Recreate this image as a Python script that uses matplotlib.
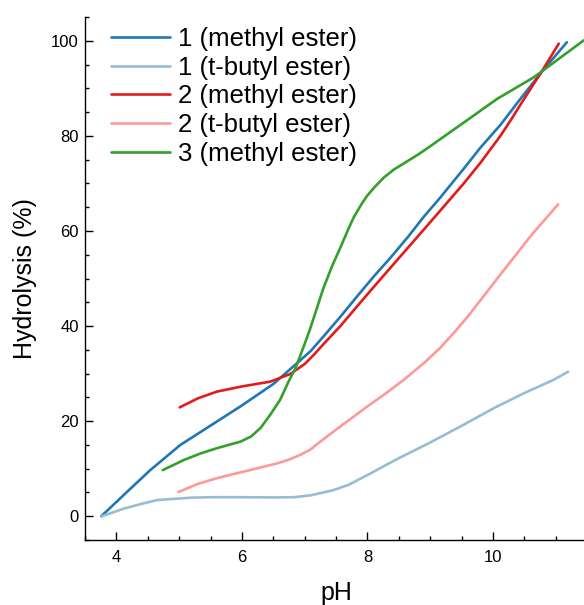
import matplotlib
matplotlib.use("Agg")
import matplotlib.pyplot as plt
from matplotlib.ticker import MultipleLocator

plt.rcParams['font.family'] = ['Liberation Sans', 'DejaVu Sans']

# Series data (pH, hydrolysis %)
ph_1_methyl = [3.76, 4.2, 4.54, 5.02, 5.6, 6.0, 6.5, 6.88, 7.1, 7.3, 7.56, 7.84, 8.1, 8.37, 8.65, 8.9, 9.16, 9.53, 9.8, 10.12, 10.44, 10.8, 11.18]
hy_1_methyl = [0, 5.5, 9.7, 15.0, 19.9, 23.3, 27.8, 32.2, 34.8, 37.8, 41.8, 46.3, 50.4, 54.4, 58.8, 63.0, 67.0, 73.0, 77.5, 82.3, 87.8, 93.8, 99.7]

ph_1_tbutyl = [3.77, 4.12, 4.4, 4.65, 5.18, 5.5, 6.0, 6.5, 6.83, 7.1, 7.46, 7.7, 7.89, 8.05, 8.3, 8.53, 9.0, 9.5, 10.01, 10.5, 10.97, 11.2]
hy_1_tbutyl = [0, 1.6, 2.6, 3.4, 3.9, 4.0, 4.0, 3.95, 4.0, 4.4, 5.5, 6.6, 7.9, 9.0, 10.8, 12.4, 15.5, 19.0, 22.7, 25.9, 28.7, 30.4]

ph_2_methyl = [5.01, 5.3, 5.6, 6.0, 6.45, 6.77, 7.0, 7.15, 7.3, 7.57, 7.84, 8.1, 8.37, 8.9, 9.32, 9.53, 9.8, 10.12, 10.3, 10.47, 10.8, 11.05]
hy_2_methyl = [22.9, 24.8, 26.2, 27.3, 28.3, 29.9, 32.0, 34.0, 36.2, 40.0, 44.2, 48.2, 52.3, 60.3, 66.7, 69.9, 74.3, 80.0, 83.6, 87.2, 94.0, 99.4]

ph_2_tbutyl = [4.99, 5.3, 5.6, 6.0, 6.56, 6.75, 6.93, 7.09, 7.25, 7.5, 8.0, 8.3, 8.58, 8.9, 9.16, 9.4, 9.6, 10.1, 10.6, 11.04]
hy_2_tbutyl = [5.1, 6.8, 8.0, 9.3, 11.1, 11.9, 12.9, 14.0, 15.7, 18.2, 23.1, 25.9, 28.7, 32.2, 35.4, 38.9, 42.0, 50.5, 58.9, 65.6]

ph_3_methyl = [4.74, 5.07, 5.34, 5.6, 5.98, 6.15, 6.3, 6.45, 6.61, 6.75, 6.85, 6.98, 7.09, 7.3, 7.45, 7.57, 7.7, 7.78, 7.9, 7.99, 8.12, 8.26, 8.42, 8.58, 8.8, 9.0, 9.3, 9.59, 10.07, 10.65, 11.45]
hy_3_methyl = [9.7, 11.8, 13.2, 14.3, 15.7, 16.8, 18.6, 21.3, 24.5, 28.5, 31.0, 35.5, 39.5, 48.0, 53.0, 56.5, 60.5, 62.8, 65.5, 67.3, 69.3, 71.2, 72.9, 74.2, 76.0, 77.8, 80.6, 83.3, 87.8, 92.3, 100.1]

labels = ["1 (methyl ester)", "1 (t-butyl ester)", "2 (methyl ester)", "2 (t-butyl ester)", "3 (methyl ester)"]
colors = ["#1f78b4", "#96bdd3", "#e31a1c", "#fb9a99", "#33a02c"]

series = [(ph_1_methyl, hy_1_methyl), (ph_1_tbutyl, hy_1_tbutyl), (ph_2_methyl, hy_2_methyl),
          (ph_2_tbutyl, hy_2_tbutyl), (ph_3_methyl, hy_3_methyl)]

fig = plt.figure(figsize=(5.84, 6.05), dpi=100)
ax = fig.add_axes([85/584, 65/605, 502/584, 523/605])

for (x, y), lab, c in zip(series, labels, colors):
    ax.plot(x, y, color=c, lw=1.9, label=lab, solid_capstyle='round', solid_joinstyle='round')

ax.set_xlim(3.5, 11.5)
ax.set_ylim(-5, 105)
ax.xaxis.set_major_locator(MultipleLocator(2))
ax.xaxis.set_minor_locator(MultipleLocator(0.5))
ax.yaxis.set_major_locator(MultipleLocator(20))
ax.yaxis.set_minor_locator(MultipleLocator(5))
ax.tick_params(which='both', direction='in', width=1.0)
ax.tick_params(which='major', length=5.5, labelsize=12)
ax.tick_params(which='minor', length=3)
ax.tick_params(axis='x', which='major', pad=7)
ax.tick_params(axis='y', which='major', pad=4.5)
for s in ['top', 'right']:
    ax.spines[s].set_visible(False)
for s in ['left', 'bottom']:
    ax.spines[s].set_linewidth(1.0)

ax.set_xlabel("pH", fontsize=18, labelpad=12)
ax.set_ylabel("Hydrolysis (%)", fontsize=18, labelpad=10)

leg = ax.legend(loc='upper left', bbox_to_anchor=(111/584, 1 - 27/605), bbox_transform=fig.transFigure,
                frameon=False, fontsize=18.5, handlelength=2.3, handletextpad=0.3,
                labelspacing=0.18, borderaxespad=0, borderpad=0)

fig.savefig("out.png", dpi=100)
